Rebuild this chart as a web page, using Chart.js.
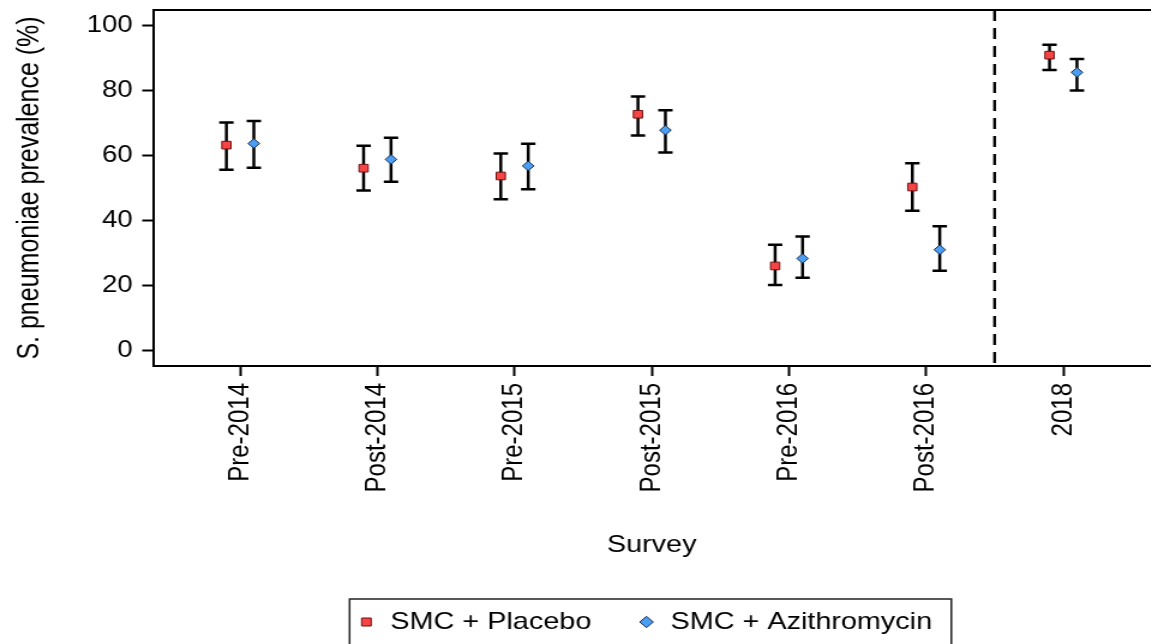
<!DOCTYPE html>
<html>
<head>
<meta charset="utf-8">
<script src="https://cdn.jsdelivr.net/npm/chart.js@4.4.1/dist/chart.umd.min.js"></script>
<style>
  html, body { margin: 0; padding: 0; overflow: hidden; background: #fff; }
  #wrap { width: 1158px; height: 644px; }
  canvas { display: block; }
</style>
</head>
<body>
<div id="wrap">
  <!-- drawn at 965 wide, shown at 1158: the source figure is stretched sideways -->
  <canvas id="chart" width="965" height="644" style="width:1158px;height:644px"></canvas>
</div>
<script>
// Survey rounds along x; prevalence (%) with 95% CI.
const surveys = ["Pre-2014", "Post-2014", "Pre-2015", "Post-2015", "Pre-2016", "Post-2016", "2018"];

const placeboPrev = [63.3, 56.2, 53.8, 72.8, 26.1, 50.4, 91.0];
const placeboLow  = [55.7, 49.3, 46.6, 66.3, 20.2, 43.1, 86.4];
const placeboHigh = [70.3, 63.1, 60.7, 78.3, 32.6, 57.7, 94.2];

const azithroPrev = [63.8, 58.9, 56.9, 67.9, 28.4, 31.1, 85.7];
const azithroLow  = [56.3, 52.0, 49.7, 61.0, 22.5, 24.6, 80.1];
const azithroHigh = [70.7, 65.6, 63.7, 74.0, 35.2, 38.3, 89.8];

const yTicks = [0, 20, 40, 60, 80, 100];

// dashed separator sits between Post-2016 and 2018
const SPLIT_AT = 5.5;
// the two arms are dodged either side of each survey
const DODGE = 0.1;

Chart.defaults.font.family = "'Liberation Sans', Arial, sans-serif";
Chart.defaults.color = "#000";

function toPoints(prev, low, high, shift) {
  return prev.map((v, i) => ({ x: i + shift, y: v, lo: low[i], hi: high[i] }));
}

// CI whiskers under the markers, plus the dashed split line
const errorBars = {
  id: "errorBars",
  afterLayout(chart) {
    // the original legend sits a touch left of the plot centre
    chart.legend.left -= 6;
    chart.legend.right -= 6;
  },
  beforeDatasetsDraw(chart) {
    const { ctx, chartArea, scales: { x, y } } = chart;
    ctx.save();
    ctx.strokeStyle = "#000";
    ctx.lineWidth = 2.5;
    chart.data.datasets.forEach((ds) => {
      ds.data.forEach((p) => {
        const px = x.getPixelForValue(p.x);
        const top = y.getPixelForValue(p.hi);
        const bot = y.getPixelForValue(p.lo);
        ctx.beginPath();
        ctx.moveTo(px, top); ctx.lineTo(px, bot);
        ctx.moveTo(px - 6, top); ctx.lineTo(px + 6, top);
        ctx.moveTo(px - 6, bot); ctx.lineTo(px + 6, bot);
        ctx.stroke();
      });
    });
    const sx = x.getPixelForValue(SPLIT_AT);
    ctx.setLineDash([11, 7]);
    ctx.lineWidth = 2.4;
    ctx.beginPath();
    ctx.moveTo(sx, chartArea.top);
    ctx.lineTo(sx, chartArea.bottom);
    ctx.stroke();
    ctx.restore();
  },
  afterDraw(chart) {
    const { ctx, chartArea, legend } = chart;
    ctx.save();
    // top edge of the frame (left and bottom come from the axis borders)
    ctx.strokeStyle = "#000";
    ctx.lineWidth = 2;
    ctx.beginPath();
    ctx.moveTo(chartArea.left, chartArea.top);
    ctx.lineTo(chartArea.right + 5, chartArea.top);
    ctx.stroke();
    // box round the legend; runs off the bottom like the original
    const hb = legend.legendHitBoxes;
    if (hb && hb.length) {
      const last = hb[hb.length - 1];
      const left = hb[0].left - 6;
      const right = last.left + last.width + 16;
      const top = hb[0].top - 11;
      ctx.strokeStyle = "#222";
      ctx.lineWidth = 1.5;
      ctx.strokeRect(left, top, right - left, 80);
    }
    ctx.restore();
  },
};

new Chart(document.getElementById("chart"), {
  type: "scatter",
  data: {
    datasets: [
      {
        label: "SMC + Placebo",
        data: toPoints(placeboPrev, placeboLow, placeboHigh, -DODGE),
        pointStyle: "rect",
        pointRadius: 5.4,
        backgroundColor: "#f84444",
        borderColor: "#6e1010",
        borderWidth: 1,
      },
      {
        label: "SMC + Azithromycin",
        data: toPoints(azithroPrev, azithroLow, azithroHigh, DODGE),
        pointStyle: "rectRot",
        pointRadius: 4.8,
        backgroundColor: "#4a9ff5",
        borderColor: "#1a2a48",
        borderWidth: 1,
      },
    ],
  },
  options: {
    responsive: false,
    animation: false,
    events: [],
    layout: { padding: { top: 10, left: 0, right: 0, bottom: 0 } },
    plugins: {
      tooltip: { enabled: false },
      legend: {
        position: "bottom",
        fullSize: false,
        labels: {
          usePointStyle: true,
          boxWidth: 16,
          boxHeight: 8,
          padding: 38,
          font: { size: 24 },
          color: "#000",
        },
      },
    },
    scales: {
      x: {
        type: "linear",
        min: -0.635,
        max: 6.635,
        afterBuildTicks: (s) => { s.ticks = surveys.map((_, i) => ({ value: i })); },
        afterFit: (s) => {
          s.height = 206;
          s.paddingLeft = 0;
          s.paddingRight = 0;
        },
        ticks: {
          autoSkip: false,
          minRotation: 90,
          maxRotation: 90,
          padding: 7,
          font: { size: 24 },
          color: "#000",
          callback: (v) => surveys[v],
        },
        grid: { drawOnChartArea: false, tickLength: 10, tickColor: "#000", tickWidth: 2 },
        border: { color: "#000", width: 2 },
        title: {
          display: true,
          text: "Survey",
          font: { size: 24 },
          color: "#000",
          padding: { top: 0, bottom: 12 },
        },
      },
      y: {
        min: -4.7,
        max: 104.9,
        afterBuildTicks: (s) => { s.ticks = yTicks.map((v) => ({ value: v })); },
        afterFit: (s) => {
          s.width = 127.5;
          s.paddingTop = 0;
          s.paddingBottom = 0;
        },
        ticks: { padding: 8, font: { size: 23 }, color: "#000" },
        grid: { drawOnChartArea: false, tickLength: 9, tickColor: "#000", tickWidth: 2 },
        border: { color: "#000", width: 2 },
        title: {
          display: true,
          text: "S. pneumoniae prevalence (%)",
          font: { size: 25 },
          color: "#000",
          padding: { top: 10, bottom: 0 },
        },
      },
    },
  },
  plugins: [errorBars],
});
</script>
</body>
</html>
